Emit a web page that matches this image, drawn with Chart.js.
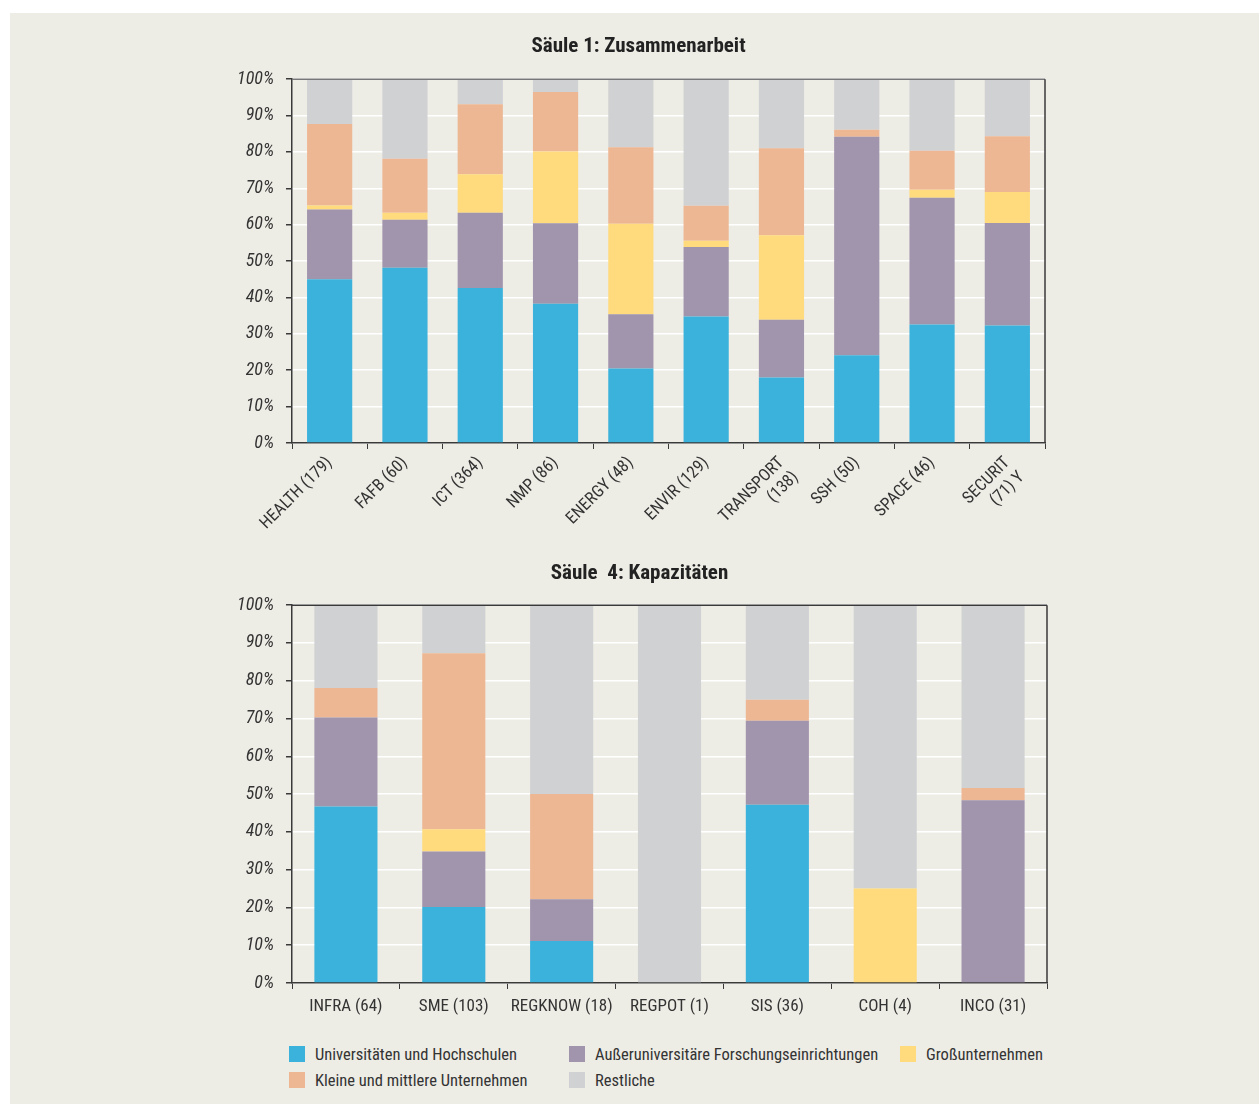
<!DOCTYPE html>
<html lang="de">
<head>
<meta charset="utf-8">
<title>Säule 1 und 4 – Teilnehmer nach Organisationstyp</title>
<script src="https://cdn.jsdelivr.net/npm/chart.js@4.4.1/dist/chart.umd.min.js"></script>
<style>
    body {
        margin: 0;
        background: #ffffff;
        font-family: "Roboto Condensed", Roboto, "Liberation Sans", sans-serif;
    }
    #page {
        position: absolute;
        left: 10px;
        top: 13px;
        width: 1249px;
        height: 1091px;
        background: #edece5;
    }
    .chart-box {
        position: absolute;
        left: 0;
        width: 1259px;
    }
    #box1 { top: 20px; height: 525px; }
    #box2 { top: 545px; height: 485px; }
    #legend {
        position: absolute;
        left: 289px;
        top: 1045px;
        display: grid;
        grid-template-columns: 280px 331px auto;
        row-gap: 8px;
        font-size: 16.5px;
        color: #333;
    }
    .legend-item {
        display: flex;
        align-items: center;
        height: 18px;
        white-space: nowrap;
    }
    .legend-swatch {
        flex: 0 0 16px;
        width: 16px;
        height: 16px;
        margin-right: 10px;
    }
</style>
</head>
<body>
<div id="page"></div>
<div class="chart-box" id="box1"><canvas id="chartSaeule1"></canvas></div>
<div class="chart-box" id="box2"><canvas id="chartSaeule4"></canvas></div>
<div id="legend"></div>

<script>
// Anteile in Prozent je Organisationstyp

// Säule 1: Zusammenarbeit
const labelsSaeule1 = ['HEALTH (179)', 'FAFB (60)', 'ICT (364)', 'NMP (86)', 'ENERGY (48)', 'ENVIR (129)',
    ['TRANSPORT', '(138)'], 'SSH (50)', 'SPACE (46)', ['SECURIT', '(71) Y']];
const uniSaeule1 = [45.0, 48.2, 42.6, 38.3, 20.5, 34.8, 18.0, 24.1, 32.6, 32.3];
const forschungSaeule1 = [19.2, 13.2, 20.7, 22.1, 14.9, 19.1, 15.9, 60.1, 34.8, 28.2];
const grossSaeule1 = [1.1, 1.9, 10.6, 19.7, 24.9, 1.7, 23.2, 0, 2.2, 8.5];
const kmuSaeule1 = [22.4, 14.8, 19.2, 16.4, 21.0, 9.6, 23.9, 1.9, 10.7, 15.3];
const restSaeule1 = [12.3, 21.9, 6.9, 3.5, 18.7, 34.8, 19.0, 13.9, 19.7, 15.7];

// Säule 4: Kapazitäten
const labelsSaeule4 = ['INFRA (64)', 'SME (103)', 'REGKNOW (18)', 'REGPOT (1)', 'SIS (36)', 'COH (4)', 'INCO (31)'];
const uniSaeule4 = [46.7, 20.1, 11.1, 0, 47.2, 0, 0];
const forschungSaeule4 = [23.6, 14.7, 11.1, 0, 22.2, 0, 48.4];
const grossSaeule4 = [0, 5.9, 0, 0, 0, 25.0, 0];
const kmuSaeule4 = [7.8, 46.6, 27.8, 0, 5.6, 0, 3.2];
const restSaeule4 = [21.9, 12.7, 50.0, 100, 25.0, 75.0, 48.4];

const yTicks = [0, 10, 20, 30, 40, 50, 60, 70, 80, 90, 100];

const seriesNames = ['Universitäten und Hochschulen', 'Außeruniversitäre Forschungseinrichtungen',
    'Großunternehmen', 'Kleine und mittlere Unternehmen', 'Restliche'];
const seriesColors = ['#3bb2dc', '#a194ad', '#ffdb7d', '#eeb794', '#d0d1d3'];

const FONT = '"Roboto Condensed", Roboto, "Liberation Sans", sans-serif';
const TEXT_COLOR = '#333333';
const AXIS_COLOR = '#3a3a3a';

// Rahmen um die Zeichenfläche (oben und rechts)
const plotFrame = {
    id: 'plotFrame',
    afterDatasetsDraw(chart, args, opts) {
        const { ctx, chartArea } = chart;
        ctx.save();
        ctx.lineWidth = 1.5;
        ctx.strokeStyle = opts.topColor || AXIS_COLOR;
        ctx.beginPath();
        ctx.moveTo(chartArea.left, chartArea.top);
        ctx.lineTo(chartArea.right, chartArea.top);
        ctx.stroke();
        ctx.strokeStyle = AXIS_COLOR;
        ctx.beginPath();
        ctx.moveTo(chartArea.right, chartArea.top);
        ctx.lineTo(chartArea.right, chartArea.bottom);
        ctx.stroke();
        ctx.restore();
    }
};

function buildDatasets(values, barPct) {
    return values.map((data, i) => ({
        label: seriesNames[i],
        data: data,
        backgroundColor: seriesColors[i],
        borderWidth: 0,
        categoryPercentage: 1.0,
        barPercentage: barPct
    }));
}

function buildOptions(title, titlePadding, padRight, xRotation, xHeight, xPadding, frameTop) {
    return {
        responsive: true,
        maintainAspectRatio: false,
        animation: false,
        layout: { padding: { left: 232, right: padRight, top: 0, bottom: 7 } },
        plugins: {
            legend: { display: false },
            tooltip: { enabled: false },
            title: {
                display: true,
                text: title,
                color: '#222',
                font: { family: FONT, size: 21, weight: 'bold' },
                padding: titlePadding
            },
            plotFrame: { topColor: frameTop }
        },
        scales: {
            x: {
                stacked: true,
                grid: {
                    display: true,
                    drawOnChartArea: false,
                    drawTicks: true,
                    tickLength: 6,
                    tickColor: AXIS_COLOR,
                    offset: true
                },
                border: { color: AXIS_COLOR, width: 1.5 },
                ticks: {
                    autoSkip: false,
                    color: TEXT_COLOR,
                    font: { family: FONT, size: 17 },
                    padding: xPadding,
                    minRotation: xRotation,
                    maxRotation: xRotation
                },
                afterFit: (scale) => { scale.height = xHeight; }
            },
            y: {
                stacked: true,
                min: 0,
                max: 100,
                afterBuildTicks: (scale) => { scale.ticks = yTicks.map(v => ({ value: v })); },
                grid: {
                    color: '#ffffff',
                    lineWidth: 1.5,
                    tickColor: AXIS_COLOR,
                    tickLength: 6
                },
                border: { color: AXIS_COLOR, width: 1.5 },
                ticks: {
                    color: TEXT_COLOR,
                    font: { family: FONT, size: 18, style: 'italic' },
                    padding: 12,
                    callback: (value) => value + '%'
                },
                afterFit: (scale) => { scale.width = 60; }
            }
        }
    };
}

new Chart(document.getElementById('chartSaeule1'), {
    type: 'bar',
    data: {
        labels: labelsSaeule1,
        datasets: buildDatasets([uniSaeule1, forschungSaeule1, grossSaeule1, kmuSaeule1, restSaeule1], 0.6)
    },
    options: buildOptions('Säule 1: Zusammenarbeit', { top: 14, bottom: 20 }, 214, 45, 95, 4, '#777777'),
    plugins: [plotFrame]
});

new Chart(document.getElementById('chartSaeule4'), {
    type: 'bar',
    data: {
        labels: labelsSaeule4,
        datasets: buildDatasets([uniSaeule4, forschungSaeule4, grossSaeule4, kmuSaeule4, restSaeule4], 0.585)
    },
    options: buildOptions('Säule  4: Kapazitäten', { top: 16, bottom: 19 }, 212, 0, 40, 8, AXIS_COLOR),
    plugins: [plotFrame]
});

// Gemeinsame Legende unter beiden Diagrammen
const legendOrder = [0, 1, 2, 3, 4];
document.getElementById('legend').innerHTML = legendOrder.map(i => `
    <div class="legend-item">
        <span class="legend-swatch" style="background:${seriesColors[i]}"></span>${seriesNames[i]}
    </div>
`).join('');
</script>
</body>
</html>
